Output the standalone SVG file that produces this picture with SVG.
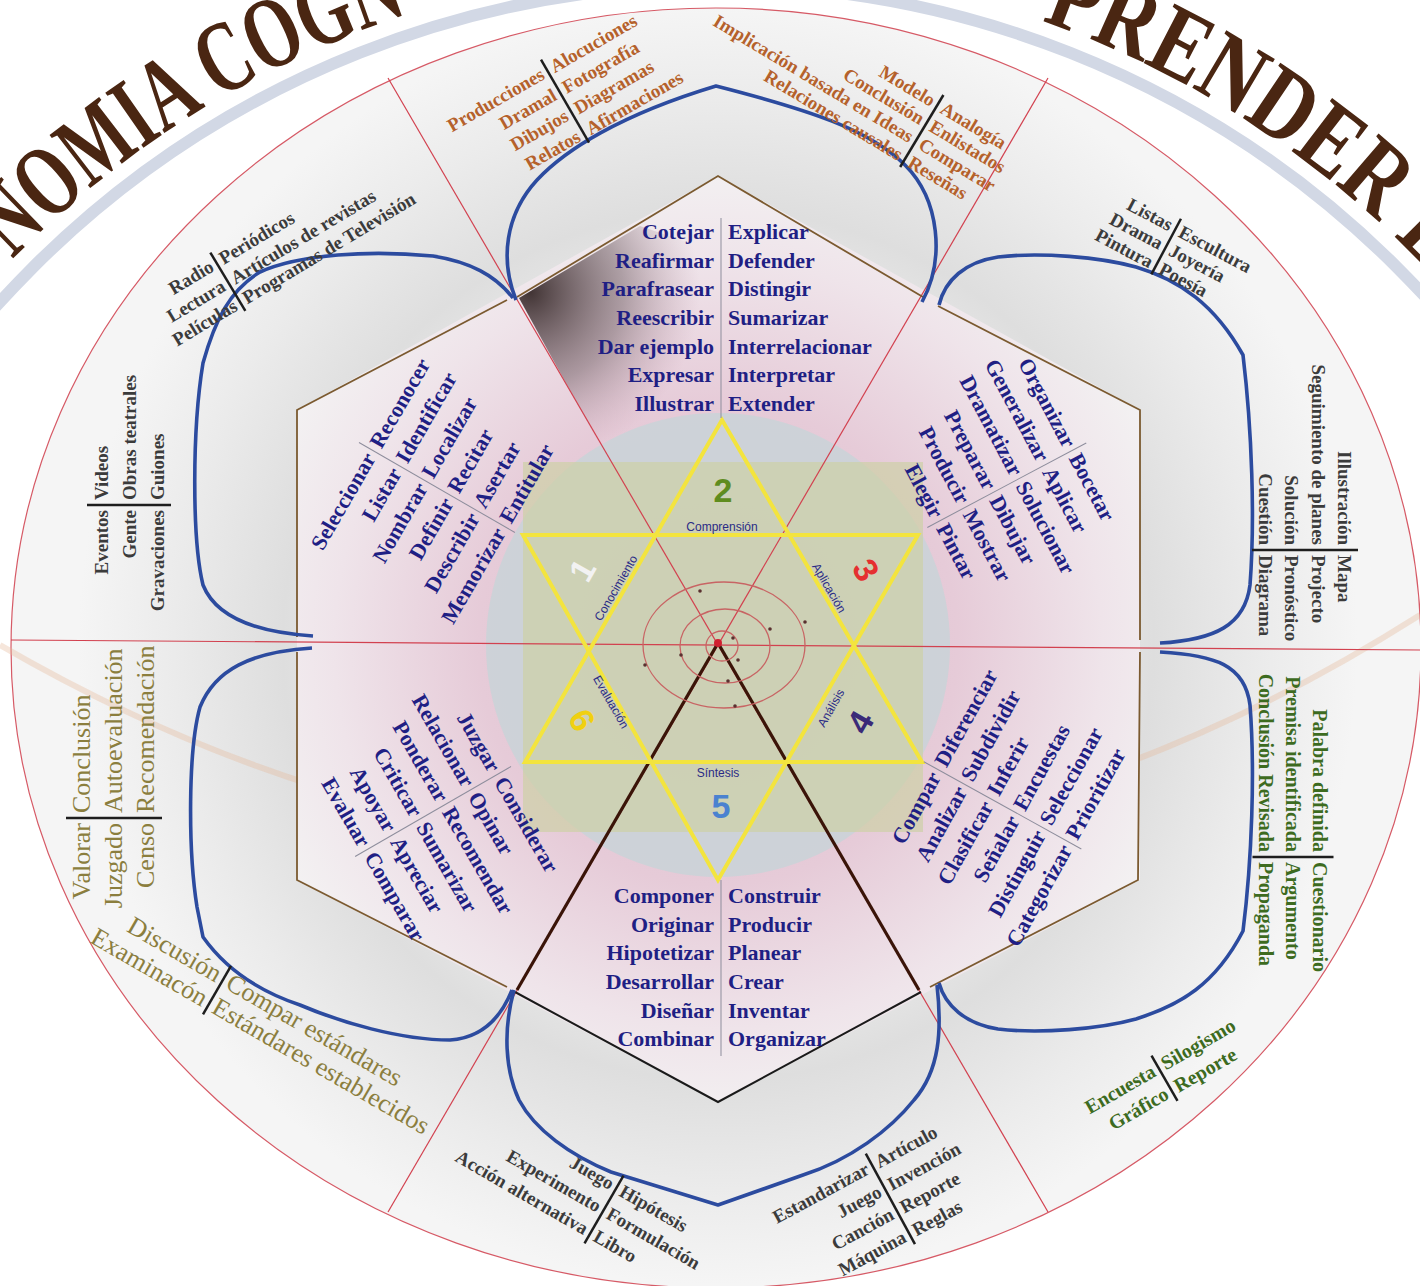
<svg xmlns="http://www.w3.org/2000/svg" width="1420" height="1286" viewBox="0 0 1420 1286">
<defs>
<style>
.ib{font-family:"Liberation Serif",serif;font-weight:bold;font-size:22px;fill:#1f1f84}
.og{font-family:"Liberation Serif",serif;font-weight:bold;font-size:19px;fill:#3b3b3b}
.br{font-family:"Liberation Serif",serif;font-weight:bold;font-size:19px;fill:#b5612b}
.gn{font-family:"Liberation Serif",serif;font-weight:bold;font-size:20px;fill:#3d6b1f}
.ol{font-family:"Liberation Serif",serif;font-size:26px;fill:#8b7e3e}
.e{text-anchor:end}
.bar{stroke:#1e1e1e;stroke-width:2.5}
.sep{stroke:#8d8d9c;stroke-width:1}
.petal{fill:none;stroke:#2c4b9f;stroke-width:3.6;stroke-linejoin:round}
.rad{stroke:#d2414f;stroke-width:1.2;fill:none}
.hexb{fill:none;stroke:#7b5a30;stroke-width:1.8}
.lbl{font-family:"Liberation Sans",Arial,sans-serif;font-size:12px;fill:#2b2b86;text-anchor:middle}
.num{font-family:"Liberation Sans",Arial,sans-serif;font-weight:bold;font-size:34px;text-anchor:middle}
.title{font-family:"Liberation Serif",serif;font-weight:bold;font-size:102px;fill:#4a2612}
</style>
<radialGradient id="halo" gradientUnits="userSpaceOnUse" cx="718" cy="645" r="640">
<stop offset="0" stop-color="#ffffff"/>
<stop offset="0.5" stop-color="#eeeeee"/>
<stop offset="0.68" stop-color="#dedede"/>
<stop offset="0.85" stop-color="#ebebeb"/>
<stop offset="1" stop-color="#f5f5f5"/>
</radialGradient>
<radialGradient id="pink" gradientUnits="userSpaceOnUse" cx="718" cy="645" r="480">
<stop offset="0" stop-color="#dcbccb"/>
<stop offset="0.5" stop-color="#e6cbd8"/>
<stop offset="0.8" stop-color="#efe4ea"/>
<stop offset="1" stop-color="#f3f1f2"/>
</radialGradient>
<radialGradient id="shade" gradientUnits="userSpaceOnUse" cx="530" cy="292" r="170">
<stop offset="0" stop-color="#2e2020" stop-opacity="0.9"/>
<stop offset="0.55" stop-color="#6d5a60" stop-opacity="0.5"/>
<stop offset="1" stop-color="#b08a9a" stop-opacity="0"/>
</radialGradient>
<path id="tarc" d="M -270,950 A 985,985 0 0 1 1700,950"/>
</defs>

<rect x="0" y="0" width="1420" height="1286" fill="#ffffff"/>

<g id="background">
<circle cx="715" cy="950" r="965" fill="none" stroke="#d2d8e5" stroke-width="12"/>
<ellipse cx="716" cy="648" rx="705" ry="640" fill="url(#halo)" stroke="#d65a66" stroke-width="1.2"/>
<path d="M0,645 Q718,1060 1420,615" fill="none" stroke="#e6b898" stroke-width="6" opacity="0.35"/>
<polygon points="718,176 1140,410 1140,880 718,1102 297,880 297,410" fill="url(#pink)"/>
<polygon points="519,298 640,226 710,250 710,445 600,445" fill="url(#shade)"/>
<circle cx="718" cy="645" r="232" fill="#c9d4d8" opacity="0.85"/>
<rect x="523" y="462" width="400" height="370" fill="#cdd0a6" opacity="0.7"/>
</g>

<g id="title">
<text class="title"><textPath href="#tarc" startOffset="765" textLength="470" lengthAdjust="spacingAndGlyphs">NOMIA COGN</textPath></text>
<text class="title"><textPath href="#tarc" startOffset="1880" textLength="470" lengthAdjust="spacingAndGlyphs">PRENDER E</textPath></text>
</g>

<g id="connectors">
<line class="rad" x1="11" y1="640" x2="1420" y2="650"/>
<line class="rad" x1="388" y1="78" x2="1048" y2="1212"/>
<line class="rad" x1="1048" y1="78" x2="388" y2="1212"/>
<line x1="718" y1="643" x2="517" y2="990" stroke="#3a1408" stroke-width="3.2"/>
<line x1="718" y1="643" x2="919" y2="990" stroke="#3a1408" stroke-width="3.2"/>
<path class="hexb" d="M517,297 L718,176 L923,297"/>
<path class="hexb" d="M938,306 L1140,410 L1140,640"/>
<path class="hexb" d="M1140,652 L1138,880 L930,987"/>
<path d="M921,992 L718,1102 L515,992" fill="none" stroke="#1a1a1a" stroke-width="2"/>
<path class="hexb" d="M507,987 L297,880 L297,652"/>
<path class="hexb" d="M297,637 L297,410 L507,300"/>
</g>

<g id="petals">
<path id="petal-top" class="petal" d="M516,300 C500,260 505,215 537,180 C565,150 620,115 716,86 C810,110 870,130 905,165 C940,200 945,260 922,302"/>
<path id="petal-ur" class="petal" d="M939,305 C945,280 965,262 998,257 C1040,252 1100,257 1136,267 C1180,280 1215,305 1243,355 C1252,430 1255,520 1250,585 C1245,625 1215,640 1160,643"/>
<path id="petal-lr" class="petal" d="M1160,652 C1215,655 1245,665 1250,705 C1255,770 1252,860 1243,931 C1215,985 1180,1005 1136,1019 C1100,1029 1040,1034 998,1029 C965,1024 945,1005 939,983"/>
<path id="petal-bottom" class="petal" d="M937,985 C942,1030 940,1070 914,1100 C890,1130 850,1160 803,1175 L718,1205 L611,1172 C570,1155 535,1130 519,1100 C505,1070 503,1030 514,990"/>
<path id="petal-ll" class="petal" d="M312,648 C250,652 215,670 200,707 C188,750 188,850 197,907 L203,937 C230,975 270,995 300,1005 C340,1022 400,1040 450,1040 C480,1038 500,1020 512,990"/>
<path id="petal-ul" class="petal" d="M313,636 C250,632 215,615 203,585 C192,540 192,430 203,363 C215,320 230,290 260,272 C300,254 370,250 433,256 C470,262 495,275 513,298"/>
</g>

<g id="star">
<polygon points="655.8,535 789.2,535 853.9,645.5 786.4,762 651.3,762 588.7,651.4" fill="none" stroke="#6a6a6a" stroke-width="1.6"/>
<polygon points="722,420 922,762 525,762" fill="none" stroke="#f3e43e" stroke-width="4"/>
<polygon points="523,535 918,535 718,880" fill="none" stroke="#f3e43e" stroke-width="4"/>
<ellipse cx="724" cy="645" rx="81" ry="63" fill="none" stroke="#c86464" stroke-width="1.3"/>
<ellipse cx="725" cy="646" rx="45" ry="37" fill="none" stroke="#c86464" stroke-width="1.3"/>
<ellipse cx="722" cy="646" rx="16" ry="15" fill="none" stroke="#c86464" stroke-width="1.3"/>
<g fill="#5a3030">
<circle cx="700" cy="591" r="1.8"/><circle cx="805" cy="622" r="1.8"/><circle cx="770" cy="629" r="1.8"/>
<circle cx="645" cy="665" r="1.8"/><circle cx="681" cy="655" r="1.8"/><circle cx="738" cy="660" r="1.8"/>
<circle cx="733" cy="638" r="1.8"/><circle cx="728" cy="681" r="1.8"/><circle cx="735" cy="706" r="1.8"/>
</g>
<circle cx="718" cy="643" r="4" fill="#d02030"/>
<text class="lbl" x="722" y="531">Comprensión</text>
<text class="lbl" x="718" y="777">Síntesis</text>
<text class="lbl" transform="translate(616,588) rotate(-60)" y="4">Conocimiento</text>
<text class="lbl" transform="translate(829,588) rotate(60)" y="4">Aplicación</text>
<text class="lbl" transform="translate(831,708) rotate(-60)" y="4">Análisis</text>
<text class="lbl" transform="translate(611,702) rotate(60)" y="4">Evaluación</text>
<text class="num" x="723" y="502" fill="#5f8c1e">2</text>
<text class="num" transform="translate(866,570) rotate(60)" y="12" fill="#e53030">3</text>
<text class="num" transform="translate(582,570) rotate(-60)" y="12" fill="#f2f2f2">1</text>
<text class="num" transform="translate(582,720) rotate(60)" y="12" fill="#f0d010">6</text>
<text class="num" transform="translate(860,722) rotate(-60)" y="12" fill="#3a2a78">4</text>
<text class="num" x="721" y="818" fill="#4a82d0">5</text>
</g>

<g id="n-comprension">
<line class="sep" x1="721" y1="218" x2="721" y2="418"/>
<text class="ib e" x="714" y="239">Cotejar</text><text class="ib" x="728" y="239">Explicar</text>
<text class="ib e" x="714" y="268">Reafirmar</text><text class="ib" x="728" y="268">Defender</text>
<text class="ib e" x="714" y="296">Parafrasear</text><text class="ib" x="728" y="296">Distingir</text>
<text class="ib e" x="714" y="325">Reescribir</text><text class="ib" x="728" y="325">Sumarizar</text>
<text class="ib e" x="714" y="354">Dar ejemplo</text><text class="ib" x="728" y="354">Interrelacionar</text>
<text class="ib e" x="714" y="382">Expresar</text><text class="ib" x="728" y="382">Interpretar</text>
<text class="ib e" x="714" y="411">Illustrar</text><text class="ib" x="728" y="411">Extender</text>
</g>

<g id="n-sintesis">
<line class="sep" x1="721" y1="880" x2="721" y2="1056"/>
<text class="ib e" x="714" y="903">Componer</text><text class="ib" x="728" y="903">Construir</text>
<text class="ib e" x="714" y="932">Originar</text><text class="ib" x="728" y="932">Producir</text>
<text class="ib e" x="714" y="960">Hipotetizar</text><text class="ib" x="728" y="960">Planear</text>
<text class="ib e" x="714" y="989">Desarrollar</text><text class="ib" x="728" y="989">Crear</text>
<text class="ib e" x="714" y="1018">Diseñar</text><text class="ib" x="728" y="1018">Inventar</text>
<text class="ib e" x="714" y="1046">Combinar</text><text class="ib" x="728" y="1046">Organizar</text>
</g>

<g id="n-conocimiento" transform="translate(372,450) rotate(-60)">
<line class="sep" x1="0" y1="-15" x2="0" y2="165"/>
<text class="ib e" x="-5" y="8">Seleccionar</text><text class="ib" x="5" y="8">Reconocer</text>
<text class="ib e" x="-5" y="38">Listar</text><text class="ib" x="5" y="38">Identificar</text>
<text class="ib e" x="-5" y="68">Nombrar</text><text class="ib" x="5" y="68">Localizar</text>
<text class="ib e" x="-5" y="98">Definir</text><text class="ib" x="5" y="98">Recitar</text>
<text class="ib e" x="-5" y="128">Describir</text><text class="ib" x="5" y="128">Asertar</text>
<text class="ib e" x="-5" y="158">Memorizar</text><text class="ib" x="5" y="158">Entitular</text>
</g>

<g id="n-aplicacion" transform="translate(1073,450) rotate(62)">
<line class="sep" x1="0" y1="-15" x2="0" y2="165"/>
<text class="ib e" x="-5" y="8">Organizar</text><text class="ib" x="5" y="8">Bocetar</text>
<text class="ib e" x="-5" y="38">Generalizar</text><text class="ib" x="5" y="38">Aplicar</text>
<text class="ib e" x="-5" y="68">Dramatizar</text><text class="ib" x="5" y="68">Solucionar</text>
<text class="ib e" x="-5" y="98">Preparar</text><text class="ib" x="5" y="98">Dibujar</text>
<text class="ib e" x="-5" y="128">Producir</text><text class="ib" x="5" y="128">Mostrar</text>
<text class="ib e" x="-5" y="158">Elegir</text><text class="ib" x="5" y="158">Pintar</text>
</g>

<g id="n-analisis" transform="translate(937,769) rotate(-61)">
<line class="sep" x1="0" y1="-15" x2="0" y2="165"/>
<text class="ib e" x="-5" y="8">Compar</text><text class="ib" x="5" y="8">Diferenciar</text>
<text class="ib e" x="-5" y="38">Analizar</text><text class="ib" x="5" y="38">Subdividir</text>
<text class="ib e" x="-5" y="68">Clasificar</text><text class="ib" x="5" y="68">Inferir</text>
<text class="ib e" x="-5" y="98">Señalar</text><text class="ib" x="5" y="98">Encuestas</text>
<text class="ib e" x="-5" y="128">Distinguir</text><text class="ib" x="5" y="128">Seleccionar</text>
<text class="ib e" x="-5" y="158">Categorizar</text><text class="ib" x="5" y="158">Prioritizar</text>
</g>

<g id="n-evaluacion" transform="translate(498,774) rotate(60)">
<line class="sep" x1="0" y1="-15" x2="0" y2="165"/>
<text class="ib e" x="-5" y="8">Juzgar</text><text class="ib" x="5" y="8">Considerar</text>
<text class="ib e" x="-5" y="38">Relacionar</text><text class="ib" x="5" y="38">Opinar</text>
<text class="ib e" x="-5" y="68">Ponderar</text><text class="ib" x="5" y="68">Recomendar</text>
<text class="ib e" x="-5" y="98">Criticar</text><text class="ib" x="5" y="98">Sumarizar</text>
<text class="ib e" x="-5" y="128">Apoyar</text><text class="ib" x="5" y="128">Apreciar</text>
<text class="ib e" x="-5" y="158">Evaluar</text><text class="ib" x="5" y="158">Comparar</text>
</g>

<g id="o-medios" transform="translate(216,262) rotate(-31)" style="font-size:20px">
<line class="bar" x1="0" y1="-11" x2="0" y2="57"/>
<text class="og e" x="-5" y="6.6">Radio</text><text class="og" x="5" y="6.6">Periódicos</text>
<text class="og e" x="-5" y="29.6">Lectura</text><text class="og" x="5" y="29.6">Artículos de revistas</text>
<text class="og e" x="-5" y="52.6">Películas</text><text class="og" x="5" y="52.6">Programas de Televisión</text>
</g>

<g id="o-producciones" transform="translate(547,70) rotate(-30)">
<line class="bar" x1="0" y1="-12" x2="0" y2="84"/>
<text class="br e" x="-5" y="6.6">Producciones</text><text class="br" x="5" y="6.6">Alocuciones</text>
<text class="br e" x="-5" y="30.6">Dramal</text><text class="br" x="5" y="30.6">Fotografía</text>
<text class="br e" x="-5" y="54.6">Dibujos</text><text class="br" x="5" y="54.6">Diagramas</text>
<text class="br e" x="-5" y="78.6">Relatos</text><text class="br" x="5" y="78.6">Afirmaciones</text>
</g>

<g id="o-modelo" transform="translate(938,104) rotate(31)">
<line class="bar" x1="0" y1="-10.5" x2="0" y2="73.5"/>
<text class="br e" x="-5" y="6.6">Modelo</text><text class="br" x="5" y="6.6">Analogía</text>
<text class="br e" x="-5" y="27.6">Conclusión</text><text class="br" x="5" y="27.6">Enlistados</text>
<text class="br e" x="-5" y="48.6">Implicación basada en Ideas</text><text class="br" x="5" y="48.6">Comparar</text>
<text class="br e" x="-5" y="69.6">Relaciones causales</text><text class="br" x="5" y="69.6">Reseñas</text>
</g>

<g id="o-listas" transform="translate(1176,228) rotate(28)">
<line class="bar" x1="0" y1="-10.5" x2="0" y2="52.5"/>
<text class="og e" x="-5" y="6.6">Listas</text><text class="og" x="5" y="6.6">Escultura</text>
<text class="og e" x="-5" y="27.6">Drama</text><text class="og" x="5" y="27.6">Joyería</text>
<text class="og e" x="-5" y="48.6">Pintura</text><text class="og" x="5" y="48.6">Poesía</text>
</g>

<g id="o-ilustracion" transform="translate(1345,550) rotate(90)" style="font-size:20px">
<line class="bar" x1="0" y1="-13" x2="0" y2="93"/>
<text class="og e" x="-5" y="7">Illustración</text><text class="og" x="5" y="7">Mapa</text>
<text class="og e" x="-5" y="33.5">Seguimiento de planes</text><text class="og" x="5" y="33.5">Projecto</text>
<text class="og e" x="-5" y="60">Solución</text><text class="og" x="5" y="60">Pronóstico</text>
<text class="og e" x="-5" y="86.5">Cuestión</text><text class="og" x="5" y="86.5">Diagrama</text>
</g>

<g id="o-palabra" transform="translate(1320,857) rotate(90)">
<line class="bar" x1="0" y1="-13.5" x2="0" y2="67.5"/>
<text class="gn e" x="-5" y="7">Palabra definida</text><text class="gn" x="5" y="7">Cuestionario</text>
<text class="gn e" x="-5" y="34">Premisa identificada</text><text class="gn" x="5" y="34">Argumento</text>
<text class="gn e" x="-5" y="61">Conclusión Revisada</text><text class="gn" x="5" y="61">Propaganda</text>
</g>

<g id="o-encuesta" transform="translate(1158,1067) rotate(-30)">
<line class="bar" x1="0" y1="-13" x2="0" y2="39"/>
<text class="gn e" x="-5" y="7">Encuesta</text><text class="gn" x="5" y="7">Silogismo</text>
<text class="gn e" x="-5" y="33">Gráfico</text><text class="gn" x="5" y="33">Reporte</text>
</g>

<g id="o-estandarizar" transform="translate(872,1165) rotate(-28.5)">
<line class="bar" x1="0" y1="-13" x2="0" y2="90"/>
<text class="og e" x="-5" y="6.6">Estandarizar</text><text class="og" x="5" y="6.6">Artículo</text>
<text class="og e" x="-5" y="32.4">Juego</text><text class="og" x="5" y="32.4">Invención</text>
<text class="og e" x="-5" y="58.2">Canción</text><text class="og" x="5" y="58.2">Reporte</text>
<text class="og e" x="-5" y="84">Máquina</text><text class="og" x="5" y="84">Reglas</text>
</g>

<g id="o-juego" transform="translate(617,1187) rotate(30)">
<line class="bar" x1="0" y1="-13" x2="0" y2="65"/>
<text class="og e" x="-5" y="6.6">Juego</text><text class="og" x="5" y="6.6">Hipótesis</text>
<text class="og e" x="-5" y="32.6">Experimento</text><text class="og" x="5" y="32.6">Formulación</text>
<text class="og e" x="-5" y="58.6">Acción alternativa</text><text class="og" x="5" y="58.6">Libro</text>
</g>

<g id="o-discusion" transform="translate(224,978) rotate(30)">
<line class="bar" x1="0" y1="-14" x2="0" y2="42"/>
<text class="ol e" x="-5" y="8.4">Discusión</text><text class="ol" x="5" y="8.4">Compar estándares</text>
<text class="ol e" x="-5" y="36.4">Examinacón</text><text class="ol" x="5" y="36.4">Estándares establecidos</text>
</g>

<g id="o-valorar" transform="translate(82,818) rotate(-90)">
<line class="bar" x1="0" y1="-16" x2="0" y2="80"/>
<text class="ol e" x="-5" y="8.4">Valorar</text><text class="ol" x="5" y="8.4">Conclusión</text>
<text class="ol e" x="-5" y="40.4">Juzgado</text><text class="ol" x="5" y="40.4">Autoevaluación</text>
<text class="ol e" x="-5" y="72.4">Censo</text><text class="ol" x="5" y="72.4">Recomendación</text>
</g>

<g id="o-eventos" transform="translate(101,505) rotate(-90)" style="font-size:20px">
<line class="bar" x1="0" y1="-14" x2="0" y2="70"/>
<text class="og e" x="-5" y="7">Eventos</text><text class="og" x="5" y="7">Videos</text>
<text class="og e" x="-5" y="35">Gente</text><text class="og" x="5" y="35">Obras teatrales</text>
<text class="og e" x="-5" y="63">Gravaciones</text><text class="og" x="5" y="63">Guiones</text>
</g>
</svg>
